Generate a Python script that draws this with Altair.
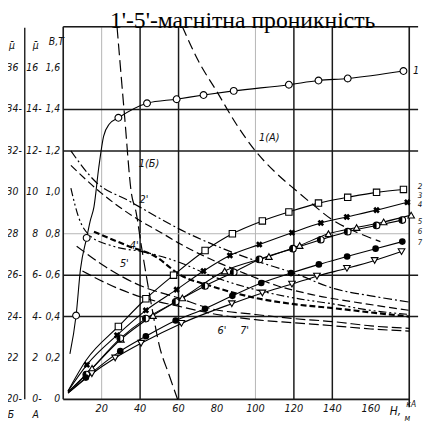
import altair as alt
import pandas as pd

# ---------------- data ----------------
# B(H) curves 1..7  (B in T, H in kA/m)
c1_x = [3.5, 6.7, 9.0, 12.2, 14.0, 16.0, 18.5, 21.0, 24.0, 28.7, 43.6, 59.0, 73.0, 88.7, 117.4, 132.8, 148.0, 177.0]
c1_y = [0.22, 0.405, 0.63, 0.78, 0.86, 0.93, 1.12, 1.27, 1.33, 1.36, 1.43, 1.45, 1.47, 1.49, 1.52, 1.54, 1.55, 1.586]
c1_m = [0, 1, 0, 1, 0, 0, 0, 0, 0, 1, 1, 1, 1, 1, 1, 1, 1, 1]

c2_x = [2.5, 12.0, 28.7, 43.0, 57.4, 73.8, 88.0, 103.6, 117.4, 132.8, 148.0, 163.0, 177.0]
c2_y = [0.04, 0.19, 0.352, 0.486, 0.60, 0.719, 0.80, 0.862, 0.905, 0.948, 0.976, 1.0, 1.014]
c2_m = [0, 0, 1, 1, 1, 1, 1, 1, 1, 1, 1, 1, 1]

c3_x = [2.5, 12.3, 28.0, 43.0, 59.0, 73.0, 86.7, 102.0, 119.0, 134.0, 147.5, 163.0, 179.0]
c3_y = [0.04, 0.167, 0.31, 0.43, 0.53, 0.62, 0.695, 0.748, 0.805, 0.852, 0.881, 0.914, 0.952]
c3_m = [0, 1, 1, 1, 1, 1, 1, 1, 1, 1, 1, 1, 1]

c4_x = [2.5, 15.0, 30.0, 46.7, 62.0, 84.0, 107.0, 123.0, 138.0, 152.6, 166.7, 181.0]
c4_y = [0.035, 0.15, 0.29, 0.405, 0.49, 0.62, 0.69, 0.743, 0.80, 0.83, 0.857, 0.89]
c4_m = [0, 1, 1, 1, 1, 1, 1, 1, 1, 1, 1, 1]

c5_x = [2.5, 12.0, 29.7, 43.0, 58.5, 73.8, 88.7, 102.0, 119.5, 134.0, 148.0, 163.0, 176.4]
c5_y = [0.035, 0.12, 0.295, 0.39, 0.471, 0.548, 0.614, 0.676, 0.728, 0.771, 0.81, 0.84, 0.866]
c5_m = [0, 1, 1, 1, 1, 1, 1, 1, 1, 1, 1, 1, 1]

c6_x = [2.5, 11.8, 29.7, 43.0, 58.5, 73.8, 88.0, 103.0, 118.5, 133.0, 147.7, 162.5, 176.4]
c6_y = [0.03, 0.105, 0.233, 0.305, 0.381, 0.438, 0.50, 0.562, 0.61, 0.652, 0.69, 0.728, 0.762]
c6_m = [0, 1, 1, 1, 1, 1, 1, 1, 1, 1, 1, 1, 1]

c7_x = [2.5, 14.9, 27.0, 40.5, 61.5, 87.7, 103.6, 119.0, 132.0, 147.6, 162.0, 176.0]
c7_y = [0.03, 0.124, 0.20, 0.271, 0.367, 0.462, 0.514, 0.557, 0.595, 0.633, 0.671, 0.714]
c7_m = [0, 1, 1, 1, 1, 1, 1, 1, 1, 1, 1, 1]

# permeability curves (dashed), in the same plotted units
p1a_x = [62, 70, 80, 90, 100, 110, 121, 130, 140, 152, 165]
p1a_y = [1.80, 1.64, 1.486, 1.33, 1.20, 1.10, 1.01, 0.94, 0.867, 0.81, 0.762]

p1b_x = [28, 32, 35.4, 38, 40.5, 43, 46, 50, 55, 59.5]
p1b_y = [1.80, 1.36, 1.0, 0.90, 0.75, 0.61, 0.45, 0.26, 0.12, 0.0]

p2_x = [4, 17, 34, 51, 61, 80, 100, 120, 141, 160, 180]
p2_y = [1.20, 1.05, 0.96, 0.87, 0.82, 0.74, 0.67, 0.61, 0.535, 0.50, 0.47]

p3_x = [4, 20, 37, 51, 61, 76, 94, 111, 130, 155, 180]
p3_y = [1.13, 0.995, 0.88, 0.805, 0.75, 0.68, 0.61, 0.55, 0.505, 0.465, 0.43]

p4_x = [4, 8, 14, 26, 43, 61, 76, 100, 120, 141, 160, 180]
p4_y = [1.02, 0.88, 0.79, 0.74, 0.71, 0.66, 0.60, 0.53, 0.49, 0.46, 0.43, 0.41]

p5_x = [16, 34, 48, 61, 76, 100, 120, 141, 160, 180]
p5_y = [0.81, 0.74, 0.69, 0.60, 0.55, 0.49, 0.46, 0.44, 0.42, 0.40]

p6_x = [7, 22, 40, 60, 76, 100, 120, 141, 160, 180]
p6_y = [0.74, 0.64, 0.55, 0.49, 0.44, 0.41, 0.39, 0.375, 0.355, 0.343]

p7_x = [10, 25, 42, 60, 80, 100, 120, 141, 160, 180]
p7_y = [0.62, 0.55, 0.49, 0.45, 0.41, 0.385, 0.37, 0.355, 0.34, 0.33]

# axis tick labels
x_ticks = [20, 40, 60, 80, 100, 120, 140, 160]
b_ticks = [0, 0.2, 0.4, 0.6, 0.8, 1.0, 1.2, 1.4, 1.6]
b_labels = ["0", "0,2", "0,4", "0,6", "0,8", "1,0", "1,2", "1,4", "1,6"]
muA_labels = ["0-", "2", "4-", "6-", "8", "10", "12-", "14-", "16"]
muB_labels = ["20-", "22", "24-", "26-", "28", "30", "32-", "34-", "36"]
title_text = "1'-5'-магнітна проникність"

# ---------------- build tables ----------------
X0, X1, Y0, Y1 = 0, 180, 0, 1.8
xs = alt.Scale(domain=[X0, X1], nice=False, zero=False)
ys = alt.Scale(domain=[Y0, Y1], nice=False, zero=False)
X = alt.X("x:Q", scale=xs, axis=None)
Y = alt.Y("y:Q", scale=ys, axis=None)

def px2x(p):
    return (p - 64) / 1.95

def py2y(p):
    return (402 - p) / 210.0

# frame and grid
rules = []
dark, grey = "#1a1a1a", "#b5b5b5"
for v in [40, 60, 120, 140]:
    rules.append(dict(x=v, x2=v, y=Y0, y2=Y1, c=dark, w=1.5))
for v in [20, 100]:
    rules.append(dict(x=v, x2=v, y=Y0, y2=Y1, c=grey, w=1.0))
for v in [0.4, 0.6, 1.2, 1.4]:
    rules.append(dict(x=X0, x2=px2x(424), y=v, y2=v, c=dark, w=1.5))
rules.append(dict(x=X0, x2=X1, y=0.8, y2=0.8, c=grey, w=1.0))
rules.append(dict(x=X0, x2=px2x(424), y=Y1, y2=Y1, c=dark, w=1.6))
rules.append(dict(x=X0, x2=X1, y=Y0, y2=Y0, c=dark, w=1.6))
rules.append(dict(x=X0, x2=X0, y=Y0, y2=Y1, c=dark, w=1.6))
rules.append(dict(x=X1, x2=X1, y=py2y(410), y2=Y1, c=dark, w=1.6))
rules.append(dict(x=px2x(25), x2=px2x(25), y=Y0, y2=py2y(25), c=dark, w=1.4))
rules_df = pd.DataFrame(rules)

rule_layer = alt.Chart(rules_df).mark_rule().encode(
    x=X, x2="x2:Q", y=Y, y2="y2:Q",
    color=alt.Color("c:N", scale=None),
    strokeWidth=alt.StrokeWidth("w:Q", scale=None),
)

def curve_df(name, xv, yv, mv=None):
    d = pd.DataFrame({"x": xv, "y": yv})
    d["s"] = name
    d["m"] = mv if mv is not None else [0] * len(xv)
    return d

solid = [("1", c1_x, c1_y, c1_m), ("2", c2_x, c2_y, c2_m), ("3", c3_x, c3_y, c3_m),
         ("4", c4_x, c4_y, c4_m), ("5", c5_x, c5_y, c5_m), ("6", c6_x, c6_y, c6_m),
         ("7", c7_x, c7_y, c7_m)]
layers = [rule_layer]

for name, xv, yv, mv in solid:
    d = curve_df(name, xv, yv, mv)
    layers.append(alt.Chart(d).mark_line(color="black", strokeWidth=1.1, interpolate="monotone").encode(x=X, y=Y, order="x:Q"))

dashed = [
    (p1a_x, p1a_y, [10, 5], 1.2),
    (p1b_x, p1b_y, [12, 5], 1.2),
    (p2_x, p2_y, [9, 3, 2, 3], 1.2),
    (p3_x, p3_y, [8, 4], 1.2),
    (p4_x, p4_y, [8, 3, 2, 3, 2, 3], 1.2),
    (p5_x, p5_y, [6, 3], 2.2),
    (p6_x, p6_y, [10, 4], 1.2),
    (p7_x, p7_y, [10, 4], 1.2),
]
for xv, yv, dash, w in dashed:
    d = curve_df("p", xv, yv)
    layers.append(alt.Chart(d).mark_line(color="black", strokeWidth=w, strokeDash=dash,
                                         interpolate="monotone").encode(x=X, y=Y, order="x:Q"))

half_path = "M0,-1 A1,1 0 0,0 0,1 Z"
markers = {
    "1": dict(shape="circle", filled=False, size=48),
    "2": dict(shape="square", filled=False, size=42),
    "3": dict(shape="cross", filled=True, size=45, angle=45),
    "4": dict(shape="triangle-up", filled=False, size=45),
    "5": dict(shape="circle", filled=False, size=45),
    "6": dict(shape="circle", filled=True, size=45),
    "7": dict(shape="triangle-down", filled=False, size=45),
}
for name, xv, yv, mv in solid:
    d = curve_df(name, xv, yv, mv)
    d = d[d["m"] == 1]
    spec = markers[name]
    if spec["filled"] and spec["shape"] != "cross":
        mk = alt.Chart(d).mark_point(shape=spec["shape"], size=spec["size"], filled=True,
                                     color="black", opacity=1)
    elif spec["shape"] == "cross":
        mk = alt.Chart(d).mark_point(shape="cross", size=spec["size"], filled=True,
                                     color="black", angle=45, opacity=1)
    else:
        mk = alt.Chart(d).mark_point(shape=spec["shape"], size=spec["size"], filled=True,
                                     fill="white", stroke="black", strokeWidth=1.1, opacity=1)
    layers.append(mk.encode(x=X, y=Y))
    if name == "5":
        layers.append(alt.Chart(d).mark_point(shape=half_path, size=45, filled=True,
                                              color="black", opacity=1).encode(x=X, y=Y))

# ---------------- text ----------------
LBL_FONT = "DejaVu Sans Condensed, Liberation Sans Narrow, Liberation Sans"

def text_layer(df, **kw):
    base = dict(font=LBL_FONT, fontStyle="italic", fontSize=11, color="#111")
    base.update(kw)
    return alt.Chart(df).mark_text(**base).encode(x=X, y=Y, text="t:N")

xt = pd.DataFrame({"x": x_ticks, "y": [py2y(412)] * len(x_ticks), "t": [str(v) for v in x_ticks]})
layers.append(text_layer(xt, baseline="middle", align="center"))

col3 = pd.DataFrame({"x": [px2x(61)] * 9, "y": b_ticks, "t": b_labels})
layers.append(text_layer(col3, align="right", baseline="middle", fontSize=10.5))
col2 = pd.DataFrame({"x": [px2x(42) if l.endswith("-") else px2x(38.5) for l in muA_labels],
                     "y": b_ticks, "t": muA_labels})
layers.append(text_layer(col2, align="right", baseline="middle", fontSize=10.5))
col1 = pd.DataFrame({"x": [px2x(22) if l.endswith("-") else px2x(18.5) for l in muB_labels],
                     "y": b_ticks, "t": muB_labels})
layers.append(text_layer(col1, align="right", baseline="middle", fontSize=10.5))

heads = pd.DataFrame({
    "x": [px2x(12), px2x(36), px2x(57), px2x(11), px2x(36)],
    "y": [py2y(44), py2y(44), py2y(40), py2y(418), py2y(418)],
    "t": ["μ\u0304", "μ\u0304", "В,Т", "Б", "А"],
})
layers.append(text_layer(heads, align="center", baseline="middle", fontSize=10.5))

# H, kA/m
hl = pd.DataFrame({"x": [px2x(401)], "y": [py2y(414)], "t": ["H,"]})
layers.append(text_layer(hl, align="center", baseline="middle", fontSize=12))
hs = pd.DataFrame({"x": [px2x(417), px2x(413)], "y": [py2y(407), py2y(421)], "t": ["кА", "м"]})
layers.append(text_layer(hs, align="center", baseline="middle", fontSize=8.5))

# curve labels
cl_t = ["1(А)", "1(Б)", "2'", "4'", "5'", "6'", "7'", "1"]
cl_px = [(273, 137), (151, 163), (146, 200), (136, 246), (126, 265), (225, 333), (248, 333),
         (422, 69)]
cl = pd.DataFrame({"x": [px2x(p[0]) for p in cl_px], "y": [py2y(p[1]) for p in cl_px], "t": cl_t})
layers.append(text_layer(cl, align="center", baseline="middle", fontSize=11))

rl_t = ["2", "3", "4", "5", "6", "7"]
rl_py = [187, 196, 205, 222, 232, 243]
rl = pd.DataFrame({"x": [px2x(426)] * 6, "y": [py2y(p) for p in rl_py], "t": rl_t})
layers.append(text_layer(rl, align="center", baseline="middle", fontSize=8))

tt = pd.DataFrame({"x": [px2x(246)], "y": [py2y(25)], "t": [title_text]})
layers.append(alt.Chart(tt).mark_text(font="Liberation Serif, Times New Roman, serif", fontSize=24,
                                      align="center", baseline="alphabetic", color="black")
              .encode(x=X, y=Y, text="t:N"))

chart = alt.layer(*layers).properties(
    width=351, height=378,
    padding={"left": 56, "top": 16, "right": 16, "bottom": 22},
    autosize=alt.AutoSizeParams(type="none"),
).configure_view(stroke=None).configure(background="white")

chart.save("out.html", embed_options={"renderer": "svg", "actions": False})
